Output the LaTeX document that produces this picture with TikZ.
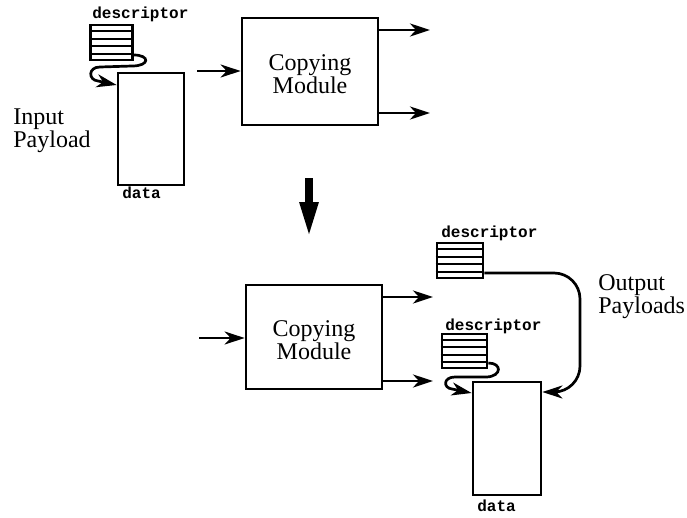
\documentclass[tikz,border=0pt]{standalone}
\usepackage{fontspec}
\setmainfont{Liberation Serif}
\setmonofont{Liberation Mono}
\usetikzlibrary{arrows.meta,calc,positioning}

\begin{document}
\begin{tikzpicture}[x=1pt,y=-1pt,line width=2.7pt,
arr/.style={-{Stealth[length=20pt,width=13pt,inset=6pt]}},
module/.style={draw,inner sep=0pt,minimum width=136pt},
datbox/.style={draw,inner sep=0pt},
descbox/.style={draw,inner sep=0pt,minimum width=42pt,minimum height=35pt},
mono/.style={font=\fontsize{16}{16}\selectfont\ttfamily\bfseries,inner sep=0pt},
big/.style={font=\fontsize{24}{20}\selectfont,align=center,inner sep=0pt}]
\useasboundingbox (0,0) rectangle (687,517);

\node[descbox] (d1) at (111.5,42.5) {};
\node[mono,anchor=base west] (d1l) at (91,18) {descriptor};
\node[datbox,minimum width=66pt,minimum height=112pt] (data1) at (151,129) {};
\node[mono,anchor=base west] (data1l) at (121,198) {data};
\node[big,align=left,anchor=west] (inp) at (12,131) {Input\\Payload};
\node[module,minimum height=107pt] (m1) at (310,71.5) {};
\node[big] (m1t) at ($(m1)+(0,3)$) {Copying\\Module};
\coordinate (in1) at (197,71);
\coordinate (o1) at (430,30);
\coordinate (o2) at (430,113);

\draw[arr] (d1.east |- 0,55)..controls(150,55)and(150,66)..(132,66)--(100,67)
..controls(88,67)and(88,80)..(98,81)--(data1.north west |- 0,85);
\draw[arr] (in1)--(m1.west |- in1);
\draw[arr] (m1.east |- o1)--(o1);
\draw[arr] (m1.east |- o2)--(o2);

\coordinate (bigtop) at (309,178);
\coordinate (bigtip) at (309,238);
\draw[line width=8pt,-{Triangle[length=36pt,width=17pt]}] (bigtop)--(bigtip);

\node[module,minimum height=104pt] (m2) at (314,337) {};
\node[big] (m2t) at ($(m2)+(0,3)$) {Copying\\Module};
\coordinate (in2) at (199,338);
\coordinate (o3) at (433,297);
\coordinate (o4) at (433,381);
\draw[arr] (in2)--(m2.west |- in2);
\draw[arr] (m2.east |- o3)--(o3);
\draw[arr] (m2.east |- o4)--(o4);

\node[descbox,minimum width=46pt] (d2) at (460,260.5) {};
\node[mono,anchor=base west] (d2l) at (440,237) {descriptor};
\node[descbox,minimum width=45pt,minimum height=34pt] (d3) at (464.5,351) {};
\node[mono,anchor=base west] (d3l) at (444,330) {descriptor};
\node[datbox,minimum width=68pt,minimum height=113pt] (data2) at (507,438.5) {};
\node[mono,anchor=base west] (data2l) at (476,511) {data};
\node[big,align=left,anchor=west] (outp) at (597,297) {Output\\Payloads};

\draw[arr] (d3.east |- 0,363)..controls(502,363)and(502,376)..(487,377)--(455,377)
..controls(443,377)and(443,388)..(452,389)--(data2.north west |- 0,393);
\draw[arr,rounded corners=26pt] (d2.east |- 0,273) -| (580,392) -- (data2.north east |- 0,392);

\foreach \n in {d1,d2,d3}
\foreach \k in {0.2,0.4,0.6,0.8}
\draw[line width=2.2pt] ($(\n.north west)!\k!(\n.south west)$)--($(\n.north east)!\k!(\n.south east)$);
\end{tikzpicture}
\end{document}
